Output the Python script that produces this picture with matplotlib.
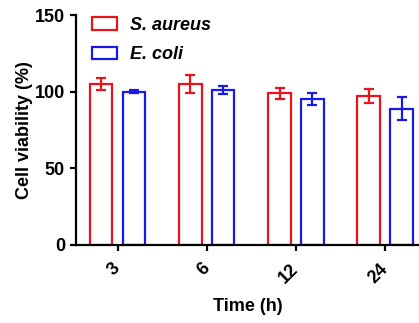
import numpy as np
import matplotlib.pyplot as plt

plt.rcParams['font.family'] = ['Liberation Sans', 'DejaVu Sans']
plt.rcParams['font.weight'] = 'bold'

# Data
times = ["3", "6", "12", "24"]
s_aureus = [105, 105, 99, 97]
s_aureus_err = [4, 6, 3.5, 4.5]
e_coli = [100, 101, 95, 89]
e_coli_err = [1, 2.5, 4, 7.5]

x = np.arange(len(times))
width = 0.25
offset = 0.185

fig = plt.figure(figsize=(4.19, 3.23), dpi=100)
ax = fig.add_axes([0.181, 0.2415, 0.819, 0.712])

ax.bar(x - offset, s_aureus, width, fill=False, edgecolor="#e8141b", linewidth=1.6,
       yerr=s_aureus_err, ecolor="#e8141b",
       error_kw=dict(elinewidth=1.6, capsize=3.3, capthick=1.6), label="S. aureus")
ax.bar(x + offset, e_coli, width, fill=False, edgecolor="#1a1ae6", linewidth=1.6,
       yerr=e_coli_err, ecolor="#1a1ae6",
       error_kw=dict(elinewidth=1.6, capsize=3.3, capthick=1.6), label="E. coli")

ax.set_xlim(-0.47, 3.38)
ax.set_ylim(0, 150)
ax.set_yticks([0, 50, 100, 150])
ax.set_xticks(x)
ax.set_xticklabels(times, rotation=45, ha="right", va="center", rotation_mode="anchor")
ax.tick_params(axis="both", labelsize=13, width=1.6, length=4.3)
ax.tick_params(axis="x", pad=11)
for t in ax.get_xticklabels() + ax.get_yticklabels():
    t.set_fontweight("bold")

ax.spines["top"].set_visible(False)
ax.spines["right"].set_visible(False)
ax.spines["left"].set_linewidth(1.6)
ax.spines["bottom"].set_linewidth(1.6)

ax.set_ylabel("Cell viability (%)", fontsize=13, fontweight="bold", labelpad=1)
ax.set_xlabel("Time (h)", fontsize=13, fontweight="bold", labelpad=8)

leg = ax.legend(loc="upper left", bbox_to_anchor=(0.0, 1.063), frameon=False,
                prop=dict(size=13, weight="bold", style="italic"),
                handlelength=1.4, handleheight=0.67, labelspacing=0.7,
                handletextpad=0.7)

fig.savefig("out.png", dpi=100)
